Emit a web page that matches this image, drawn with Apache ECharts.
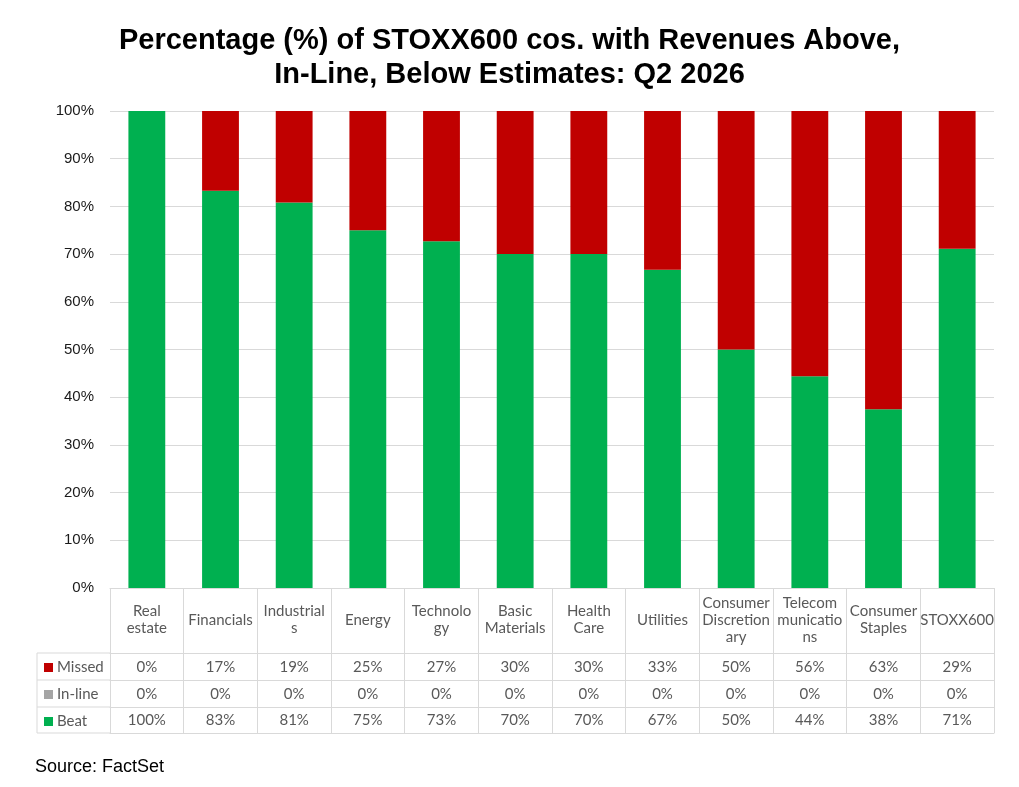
<!DOCTYPE html>
<html>
<head>
<meta charset="utf-8">
<script src="https://cdn.jsdelivr.net/npm/echarts@6/dist/echarts.min.js"></script>
<style>
  html, body { margin: 0; padding: 0; background: #fff; }
  #main { width: 1019px; height: 787px; }
</style>
</head>
<body>
<div id="main"></div>
<script>
// sector labels, wrapped the way the source table shows them
var categories = [
  "Real\nestate", "Financials", "Industrial\ns", "Energy", "Technolo\ngy",
  "Basic\nMaterials", "Health\nCare", "Utilities", "Consumer\nDiscretion\nary",
  "Telecom\nmunicatio\nns", "Consumer\nStaples", "STOXX600"
];
// share of companies (%)
var beat = [100, 83.3, 80.8, 75, 72.7, 70, 70, 66.7, 50, 44.4, 37.5, 71.1];
var inLine = [0, 0, 0, 0, 0, 0, 0, 0, 0, 0, 0, 0];
var missed = [0, 16.7, 19.2, 25, 27.3, 30, 30, 33.3, 50, 55.6, 62.5, 28.9];

var yTicks = [0, 10, 20, 30, 40, 50, 60, 70, 80, 90, 100];

var GREEN = "#00B050", RED = "#C00000", GREY = "#A5A5A5";
var LINE = "#d9d9d9", TXT = "#595959";
var tableFont = "Lato, 'Open Sans', sans-serif";

function pct(v) {
  return Math.round(v) + "%";
}

// one row of the data table hung under the plot as an extra x axis
function tableRow(values, offset, margin) {
  return {
    type: "category",
    data: categories,
    position: "bottom",
    offset: offset,
    axisLine: { show: true, lineStyle: { color: LINE, width: 1 } },
    axisTick: { show: false },
    axisLabel: {
      show: values != null,
      interval: 0,
      margin: margin,
      verticalAlign: "middle",
      fontFamily: tableFont,
      fontSize: 15,
      color: TXT,
      formatter: function (v, i) {
        return values ? pct(values[i]) : "";
      },
    },
  };
}

var myChart = echarts.init(document.getElementById("main"));
myChart.setOption({
  backgroundColor: "#fff",
  animation: false,
  title: [
    {
      text: "Percentage (%) of STOXX600 cos. with Revenues Above,\nIn-Line, Below Estimates: Q2 2026",
      left: "center",
      top: 24,
      padding: 0,
      textStyle: {
        fontFamily: "'Liberation Sans', Arial, sans-serif",
        fontSize: 29,
        fontWeight: "bold",
        lineHeight: 34,
        color: "#000",
      },
    },
    {
      text: "Source: FactSet",
      left: 35,
      top: 758,
      padding: 0,
      textStyle: {
        fontFamily: "'Liberation Sans', Arial, sans-serif",
        fontSize: 18,
        fontWeight: "normal",
        color: "#000",
      },
    },
  ],
  legend: {
    orient: "vertical",
    left: 44,
    top: 660,
    padding: 0,
    itemWidth: 9,
    itemHeight: 9,
    itemGap: 12,
    icon: "rect",
    data: ["Missed", "In-line", "Beat"],
    textStyle: { fontFamily: tableFont, fontSize: 15, lineHeight: 15, color: TXT, padding: [0, 0, 0, -1] },
  },
  grid: { left: 110, right: 25, top: 111, bottom: 199, containLabel: false },
  xAxis: [
    {
      type: "category",
      data: categories,
      axisLine: { show: true, lineStyle: { color: LINE, width: 1 } },
      axisTick: { show: true, length: 145, interval: 0, lineStyle: { color: LINE, width: 1 } },
      axisLabel: {
        interval: 0,
        margin: 32,
        verticalAlign: "middle",
        align: "center",
        lineHeight: 17,
        fontFamily: tableFont,
        fontSize: 15,
        color: TXT,
      },
    },
    tableRow(missed, 65, 14),
    tableRow(inLine, 92, 14),
    tableRow(beat, 119, 13),
    tableRow(null, 145, 8),
  ],
  yAxis: {
    type: "value",
    min: 0,
    max: 100,
    interval: 10,
    axisLine: { show: false },
    axisTick: { show: false },
    splitLine: { lineStyle: { color: LINE, width: 1 } },
    axisLabel: {
      margin: 16,
      fontFamily: "'Liberation Sans', Arial, sans-serif",
      fontSize: 15,
      color: "#1a1a1a",
      customValues: yTicks,
      formatter: "{value}%",
    },
  },
  series: [
    { name: "Beat", type: "bar", stack: "all", barWidth: "50%", data: beat, itemStyle: { color: GREEN } },
    { name: "In-line", type: "bar", stack: "all", barWidth: "50%", data: inLine, itemStyle: { color: GREY } },
    { name: "Missed", type: "bar", stack: "all", barWidth: "50%", data: missed, itemStyle: { color: RED } },
  ],
  // borders of the legend column on the left of the table
  graphic: [
    { type: "line", shape: { x1: 37, y1: 653, x2: 110, y2: 653 }, style: { stroke: LINE, lineWidth: 1 } },
    { type: "line", shape: { x1: 37, y1: 680, x2: 110, y2: 680 }, style: { stroke: LINE, lineWidth: 1 } },
    { type: "line", shape: { x1: 37, y1: 707, x2: 110, y2: 707 }, style: { stroke: LINE, lineWidth: 1 } },
    { type: "line", shape: { x1: 37, y1: 733, x2: 110, y2: 733 }, style: { stroke: LINE, lineWidth: 1 } },
    { type: "line", shape: { x1: 37, y1: 653, x2: 37, y2: 733 }, style: { stroke: LINE, lineWidth: 1 } },
  ],
});
</script>
</body>
</html>
